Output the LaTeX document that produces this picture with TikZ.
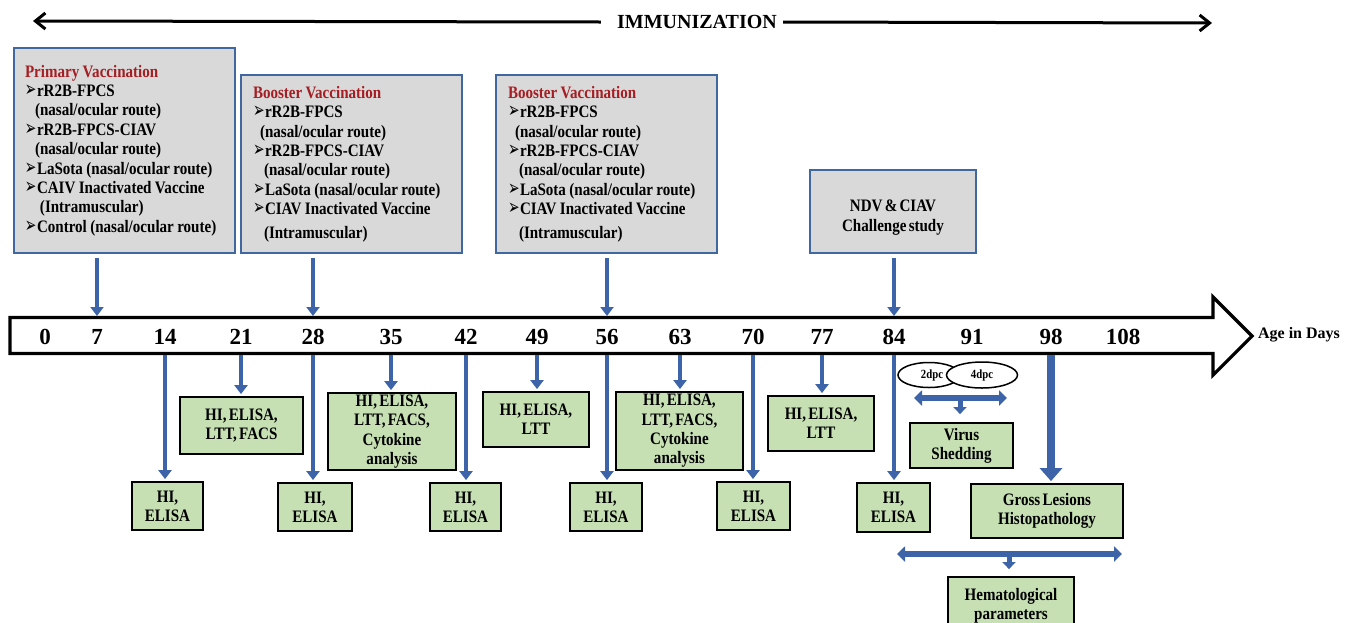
\documentclass[tikz,border=0pt]{standalone}
\usepackage{fontspec}
\usepackage{graphicx}
\setmainfont{Liberation Serif}
\newfontfamily\cond{Liberation Serif}[FakeStretch=0.86,WordSpace=0.6]
\newfontfamily\dejavu{DejaVu Sans}
\usetikzlibrary{arrows.meta,shapes.geometric}
\definecolor{arrblue}{RGB}{61,100,168}
\definecolor{boxgray}{RGB}{217,217,217}
\definecolor{boxborder}{RGB}{65,103,160}
\definecolor{greenfill}{RGB}{198,224,180}
\definecolor{titlered}{RGB}{165,30,35}
\newcommand{\bul}{\makebox[12pt][l]{\resizebox{11.5pt}{11.5pt}{\dejavu\bfseries ➢}}}
\newcommand{\tightsp}{\spaceskip=3.4pt plus 1pt\relax}
\tikzset{
  graybox/.style={draw=boxborder, line width=2.2pt, fill=boxgray, inner ysep=0pt, align=left,
    font=\cond\bfseries\fontsize{17.5}{19.4}\selectfont},
  greenbox/.style={draw=black, line width=1.8pt, fill=greenfill, inner sep=0pt, align=center,
    font=\cond\bfseries\fontsize{17.5}{19.3}\selectfont},
  varrow/.style={draw=arrblue, line width=4pt, -{Triangle[width=13pt,length=9pt]}},
  thickarrow/.style={draw=arrblue, line width=8pt, -{Triangle[width=22pt,length=13pt]}},
  darrow/.style={draw=arrblue, line width=6pt, {Triangle[width=15pt,length=8pt]}-{Triangle[width=15pt,length=8pt]}},
  smallarrow/.style={draw=arrblue, line width=5pt, -{Triangle[width=13pt,length=7pt]}},
  numlabel/.style={font=\bfseries\fontsize{23}{23}\selectfont, inner sep=0pt},
  ellip/.style={ellipse, draw=black, line width=1.5pt, fill=white, inner sep=0pt,
    font=\cond\bfseries\fontsize{12.5}{12.5}\selectfont},
  toparrow/.style={draw=black, line width=3pt, -{Straight Barb[length=10pt,width=16pt]}}
}
\begin{document}
\begin{tikzpicture}[x=1pt,y=-1pt]
\useasboundingbox (0,0) rectangle (1354,622);
\clip (0,0) rectangle (1354,622);

% top immunization arrow
\node[font=\bfseries\fontsize{20}{20}\selectfont, inner sep=0pt] (imm) at (697,22) {IMMUNIZATION};
\coordinate (immL) at (33,21);
\coordinate (immR) at (1212,23);
\draw[toparrow] ([xshift=-16pt]imm.west) -- (immL);
\draw[toparrow] ([xshift=6pt]imm.east) -- (immR);

% vaccination boxes
\node[graybox, inner xsep=11pt, text width=199pt, minimum height=205pt] (prim) at (124.5,150.5) {\tightsp
\textcolor{titlered}{Primary Vaccination}\\
\bul rR2B-FPCS\\
\hspace*{10pt}(nasal/ocular route)\\
\bul rR2B-FPCS-CIAV\\
\hspace*{10pt}(nasal/ocular route)\\
\bul LaSota (nasal/ocular route)\\
\bul CAIV Inactivated Vaccine\\
\hspace*{15pt}(Intramuscular)\\
\bul Control (nasal/ocular route)};

\node[graybox, inner xsep=12pt, text width=197pt, minimum height=178pt] (boostA) at (351.5,164) {\tightsp
\textcolor{titlered}{Booster Vaccination}\\
\bul rR2B-FPCS\\
\hspace*{7pt}(nasal/ocular route)\\
\bul rR2B-FPCS-CIAV\\
\hspace*{11pt}(nasal/ocular route)\\
\bul LaSota (nasal/ocular route)\\
\bul CIAV Inactivated Vaccine\\[4pt]
\hspace*{11pt}(Intramuscular)};

\node[graybox, inner xsep=12pt, text width=197pt, minimum height=178pt] (boostB) at (606.5,164) {\tightsp
\textcolor{titlered}{Booster Vaccination}\\
\bul rR2B-FPCS\\
\hspace*{7pt}(nasal/ocular route)\\
\bul rR2B-FPCS-CIAV\\
\hspace*{11pt}(nasal/ocular route)\\
\bul LaSota (nasal/ocular route)\\
\bul CIAV Inactivated Vaccine\\[4pt]
\hspace*{11pt}(Intramuscular)};

\node[graybox, inner sep=0pt, minimum width=166pt, minimum height=83pt] (ndv) at (893,211.5) {};
\node[align=center, inner sep=0pt, font=\cond\bfseries\fontsize{17.5}{20}\selectfont] (ndvtext)
  at ([yshift=-6pt]ndv.center) {NDV \& CIAV\\Challenge study};

% timeline
\draw[line width=3.2pt, fill=white, line join=miter]
  (10,317.5) -- (1213,317.5) -- (1213,297) -- (1252,336) -- (1213,375) -- (1213,353.5) -- (10,353.5) -- cycle;
\coordinate (bartop) at (0,316);
\coordinate (barbot) at (0,355);
\node[font=\bfseries\fontsize{16}{16}\selectfont, inner sep=0pt] (age) at (1299,335) {Age in Days};

\node[numlabel] (n0) at (45,337) {0};
\node[numlabel] (n7) at (97,337) {7};
\node[numlabel] (n14) at (165,337) {14};
\node[numlabel] (n21) at (241,337) {21};
\node[numlabel] (n28) at (313,337) {28};
\node[numlabel] (n35) at (391,337) {35};
\node[numlabel] (n42) at (466,337) {42};
\node[numlabel] (n49) at (537,337) {49};
\node[numlabel] (n56) at (607,337) {56};
\node[numlabel] (n63) at (680,337) {63};
\node[numlabel] (n70) at (753,337) {70};
\node[numlabel] (n77) at (822,337) {77};
\node[numlabel] (n84) at (894,337) {84};
\node[numlabel] (n91) at (972,337) {91};
\node[numlabel] (n98) at (1051,337) {98};
\node[numlabel] (n108) at (1123,337) {108};

% arrows from boxes to timeline
\draw[varrow] ([yshift=-4pt]prim.south -| n7) -- (n7 |- bartop);
\draw[varrow] ([yshift=-4pt]boostA.south -| n28) -- (n28 |- bartop);
\draw[varrow] ([yshift=-4pt]boostB.south -| n56) -- (n56 |- bartop);
\draw[varrow] ([yshift=-4pt]ndv.south -| n84) -- (n84 |- bartop);

% test boxes
\node[greenbox, minimum width=71pt, minimum height=48pt] (b14) at (167.5,506) {HI,\\ELISA};
\node[greenbox, minimum width=123pt, minimum height=57pt] (b21) at (241.5,425.5) {HI, ELISA,\\LTT, FACS};
\node[greenbox, minimum width=74pt, minimum height=48pt] (b28) at (315,507) {HI,\\ELISA};
\node[greenbox, minimum width=128pt, minimum height=77pt] (b35) at (392,431.5) {HI, ELISA,\\LTT, FACS,\\Cytokine\\analysis};
\node[greenbox, minimum width=71pt, minimum height=48pt] (b42) at (465.5,507) {HI,\\ELISA};
\node[greenbox, minimum width=106pt, minimum height=55pt] (b49) at (536,419.5) {HI, ELISA,\\LTT};
\node[greenbox, minimum width=72pt, minimum height=48pt] (b56) at (606,507) {HI,\\ELISA};
\node[greenbox, minimum width=127pt, minimum height=78pt] (b63) at (679.5,431) {HI, ELISA,\\LTT, FACS,\\Cytokine\\analysis};
\node[greenbox, minimum width=73pt, minimum height=48pt] (b70) at (753.5,506) {HI,\\ELISA};
\node[greenbox, minimum width=106pt, minimum height=55pt] (b77) at (821,423.5) {HI, ELISA,\\LTT};
\node[greenbox, minimum width=73pt, minimum height=49pt] (b84) at (893.5,507.5) {HI,\\ELISA};
\node[greenbox, minimum width=103pt, minimum height=45pt] (vs) at (961.5,445.5) {Virus\\Shedding};
\node[greenbox, minimum width=152pt, minimum height=54pt] (gl) at (1047,511) {Gross Lesions\\Histopathology};
\node[greenbox, minimum width=126pt, minimum height=58pt] (hp) at (1011,606) {Hematological\\parameters};

% arrows from timeline to test boxes
\foreach \d in {14,21,28,35,42,49,56,63,70,77,84}{
  \draw[varrow, shorten >=2pt] (n\d |- barbot) -- (n\d |- b\d.north);
}
\draw[thickarrow, shorten >=2pt] (n98 |- barbot) -- (n98 |- gl.north);

% dpc ellipses
\node[ellip, minimum width=62pt, minimum height=25pt] (e2) at (929,375) {\hspace*{6pt}2dpc};
\node[ellip, minimum width=71pt, minimum height=26pt] (e4) at (982,375) {4dpc};

% virus shedding bracket arrow
\coordinate (vsl) at (914,398);
\coordinate (vsr) at (1007,398);
\coordinate (vsm) at (960,398);
\draw[darrow] (vsl) -- (vsr);
\draw[smallarrow, shorten >=8pt] (vsm) -- (vsm |- vs.north);

% hematological bracket arrow
\coordinate (hpl) at (897,554);
\coordinate (hpr) at (1122,554);
\coordinate (hpm) at (1009,554);
\draw[darrow] (hpl) -- (hpr);
\draw[smallarrow, shorten >=7pt] (hpm) -- (hpm |- hp.north);
\end{tikzpicture}
\end{document}
